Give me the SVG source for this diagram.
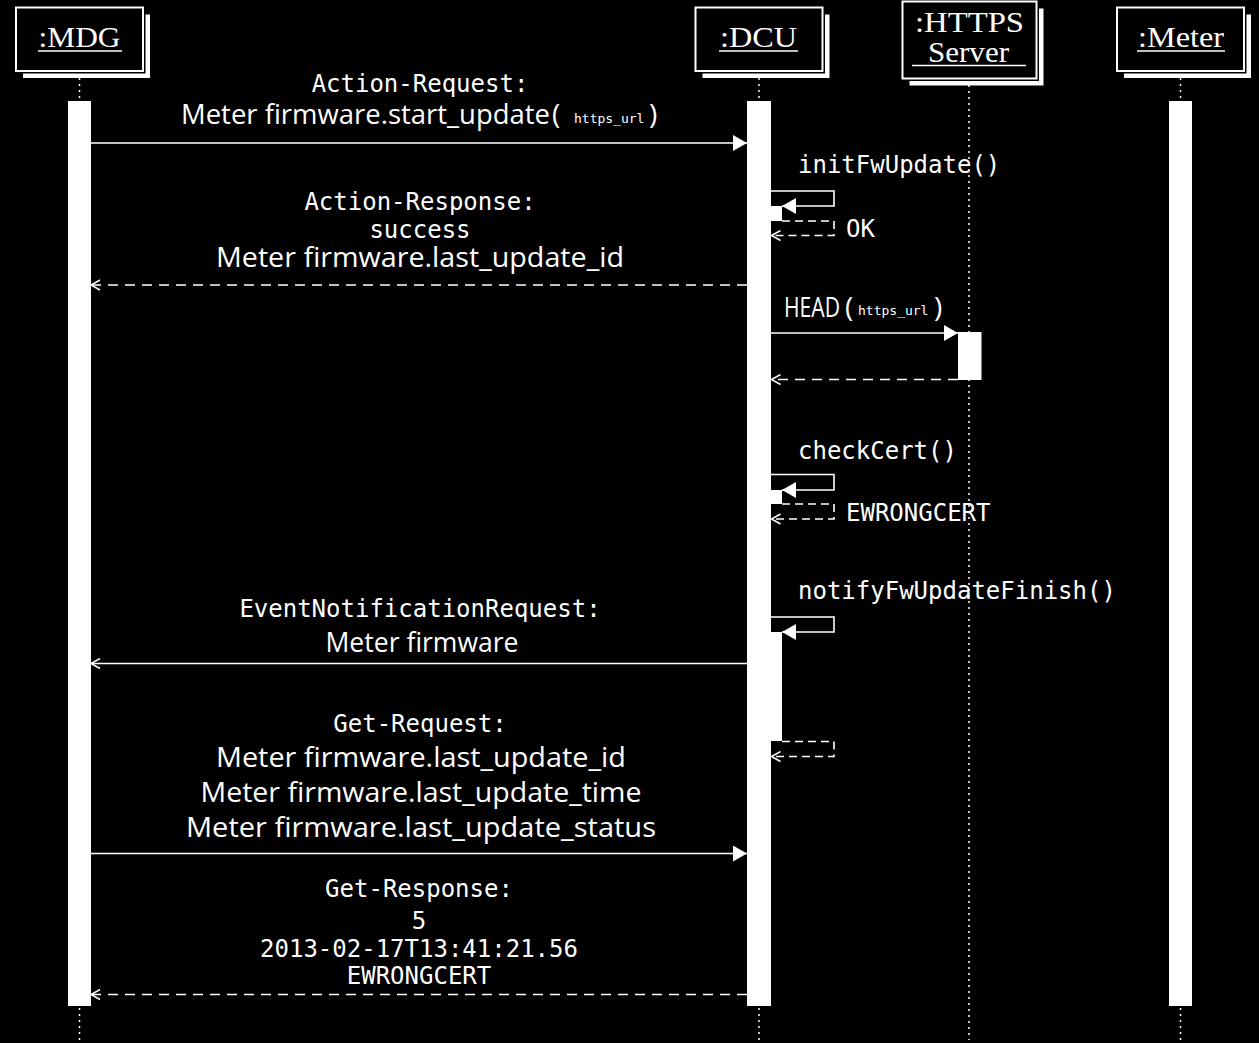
<svg xmlns="http://www.w3.org/2000/svg" width="1259" height="1043" viewBox="0 0 1259 1043">
<style>
.shadow{fill:#fff}
.gap{fill:#000;stroke:#000;stroke-width:5}
.box{fill:#000;stroke:#fff;stroke-width:2}
.title{font-family:"Liberation Serif","DejaVu Serif",serif;font-size:30px;fill:#fff;text-anchor:middle}
.ul{stroke:#fff;stroke-width:1.4}
.life{stroke:#fff;stroke-width:1.5;stroke-dasharray:2 4;fill:none}
.bar{fill:#fff}
.msg{stroke:#fff;stroke-width:1.6;fill:none}
.dash{stroke-dasharray:10 7}
.mono{font-family:"DejaVu Sans Mono",monospace;font-size:24px;fill:#fff}
.mid{text-anchor:middle}
.sans{font-family:"Open Sans","Liberation Sans",sans-serif;font-size:28px;fill:#fff}
.small{font-family:"DejaVu Sans Mono",monospace;font-size:13px}
</style>
<defs>
<marker id="filled" markerUnits="userSpaceOnUse" markerWidth="15" markerHeight="16" refX="14" refY="8" orient="auto">
<path d="M0,0 L14,8 L0,16 z" fill="#fff"/>
</marker>
<marker id="open" markerUnits="userSpaceOnUse" markerWidth="12" markerHeight="12" refX="9.5" refY="6" orient="auto">
<path d="M0.5,1 L9.5,6 L0.5,11" fill="none" stroke="#fff" stroke-width="1.5"/>
</marker>
</defs>
<rect x="0" y="0" width="1259" height="1043" fill="#000"/>

<g id="mdg">
<line class="life" x1="79.5" y1="78" x2="79.5" y2="1040"/>
<rect class="shadow" x="23" y="14.5" width="127" height="63.5"/>
<rect class="gap" x="16" y="7.5" width="127" height="63.5"/>
<rect class="box" x="16" y="7.5" width="127" height="63.5"/>
<text class="title" x="79.5" y="47" textLength="82" lengthAdjust="spacingAndGlyphs">:MDG</text>
<line class="ul" x1="38" y1="51" x2="122" y2="51"/>
<rect class="bar" x="68" y="101" width="23" height="905"/>
</g>

<g id="dcu">
<line class="life" x1="759" y1="78" x2="759" y2="1040"/>
<rect class="shadow" x="702.5" y="14.5" width="127" height="63.5"/>
<rect class="gap" x="695.5" y="7.5" width="127" height="63.5"/>
<rect class="box" x="695.5" y="7.5" width="127" height="63.5"/>
<text class="title" x="758.5" y="47" textLength="77" lengthAdjust="spacingAndGlyphs">:DCU</text>
<line class="ul" x1="719" y1="51" x2="798" y2="51"/>
<rect class="bar" x="747" y="101" width="24" height="905"/>
<rect class="bar" x="771" y="206" width="11" height="15"/>
<rect class="bar" x="771" y="490" width="11" height="14"/>
<rect class="bar" x="771" y="632" width="11" height="109"/>
</g>

<g id="https-server">
<line class="life" x1="969" y1="85" x2="969" y2="1040"/>
<rect class="shadow" x="909.5" y="8.5" width="134" height="77"/>
<rect class="gap" x="902.5" y="1.5" width="134" height="77"/>
<rect class="box" x="902.5" y="1.5" width="134" height="77"/>
<text class="title" x="969.5" y="32" textLength="109" lengthAdjust="spacingAndGlyphs">:HTTPS</text>
<text class="title" x="968.5" y="62" textLength="81" lengthAdjust="spacingAndGlyphs">Server</text>
<line class="ul" x1="912" y1="65.5" x2="1026" y2="65.5"/>
<rect class="bar" x="958" y="332" width="23.5" height="48"/>
</g>

<g id="meter">
<line class="life" x1="1180.5" y1="78" x2="1180.5" y2="1040"/>
<rect class="shadow" x="1124" y="14.5" width="127" height="63.5"/>
<rect class="gap" x="1117" y="7.5" width="127" height="63.5"/>
<rect class="box" x="1117" y="7.5" width="127" height="63.5"/>
<text class="title" x="1181" y="47" textLength="86" lengthAdjust="spacingAndGlyphs">:Meter</text>
<line class="ul" x1="1137" y1="51" x2="1225" y2="51"/>
<rect class="bar" x="1169" y="101" width="23" height="905"/>
</g>

<g id="connectors">
<!-- Action-Request -->
<line class="msg" x1="91" y1="143" x2="747" y2="143" marker-end="url(#filled)"/>
<text class="mono mid" x="420" y="92">Action-Request:</text>
<text class="sans" x="181" y="124"><tspan textLength="369" lengthAdjust="spacingAndGlyphs">Meter firmware.start_update</tspan><tspan x="552">(</tspan><tspan class="small" x="574" dy="-1">https_url</tspan><tspan x="649" dy="1">)</tspan></text>

<!-- initFwUpdate -->
<text class="mono" x="798" y="173">initFwUpdate()</text>
<path class="msg" d="M771,191 H834 V206 H782" marker-end="url(#filled)"/>
<path class="msg" d="M782,221 H834 V235.5 H771.5" stroke-dasharray="8 5" marker-end="url(#open)"/>
<text class="mono" x="846" y="237">OK</text>

<!-- Action-Response -->
<text class="mono mid" x="420" y="210">Action-Response:</text>
<text class="mono mid" x="420" y="238">success</text>
<text class="sans mid" x="420" y="267" textLength="408" lengthAdjust="spacingAndGlyphs">Meter firmware.last_update_id</text>
<line class="msg dash" x1="747" y1="285" x2="91" y2="285" marker-end="url(#open)"/>

<!-- HEAD -->
<text class="sans" x="784" y="317" font-size="24"><tspan textLength="56" lengthAdjust="spacingAndGlyphs">HEAD</tspan><tspan x="845">(</tspan><tspan class="small" x="858" dy="-2">https_url</tspan><tspan x="934" dy="2">)</tspan></text>
<line class="msg" x1="771" y1="333" x2="958" y2="333" marker-end="url(#filled)"/>
<line class="msg dash" x1="958" y1="379.5" x2="771.5" y2="379.5" marker-end="url(#open)"/>

<!-- checkCert -->
<text class="mono" x="798" y="459">checkCert()</text>
<path class="msg" d="M771,474.5 H834 V490 H782" marker-end="url(#filled)"/>
<path class="msg" d="M782,504 H834 V519 H771.5" stroke-dasharray="8 5" marker-end="url(#open)"/>
<text class="mono" x="846" y="521">EWRONGCERT</text>

<!-- notifyFwUpdateFinish -->
<text class="mono" x="798" y="599">notifyFwUpdateFinish()</text>
<path class="msg" d="M771,617 H834 V632 H782" marker-end="url(#filled)"/>
<path class="msg" d="M782,741.5 H834 V756.5 H771.5" stroke-dasharray="8 5" marker-end="url(#open)"/>

<!-- EventNotificationRequest -->
<text class="mono mid" x="420" y="617">EventNotificationRequest:</text>
<text class="sans mid" x="422" y="652" textLength="193" lengthAdjust="spacingAndGlyphs">Meter firmware</text>
<line class="msg" x1="747" y1="663.5" x2="91" y2="663.5" marker-end="url(#open)"/>

<!-- Get-Request -->
<text class="mono mid" x="420" y="732">Get-Request:</text>
<text class="sans mid" x="421" y="767" textLength="410" lengthAdjust="spacingAndGlyphs">Meter firmware.last_update_id</text>
<text class="sans mid" x="421" y="802" textLength="441" lengthAdjust="spacingAndGlyphs">Meter firmware.last_update_time</text>
<text class="sans mid" x="421" y="837" textLength="470" lengthAdjust="spacingAndGlyphs">Meter firmware.last_update_status</text>
<line class="msg" x1="91" y1="853.5" x2="747" y2="853.5" marker-end="url(#filled)"/>

<!-- Get-Response -->
<text class="mono mid" x="419" y="897">Get-Response:</text>
<text class="mono mid" x="419" y="929">5</text>
<text class="mono mid" x="419" y="957">2013-02-17T13:41:21.56</text>
<text class="mono mid" x="419" y="984">EWRONGCERT</text>
<line class="msg dash" x1="747" y1="994.5" x2="91" y2="994.5" marker-end="url(#open)"/>
</g>
</svg>
